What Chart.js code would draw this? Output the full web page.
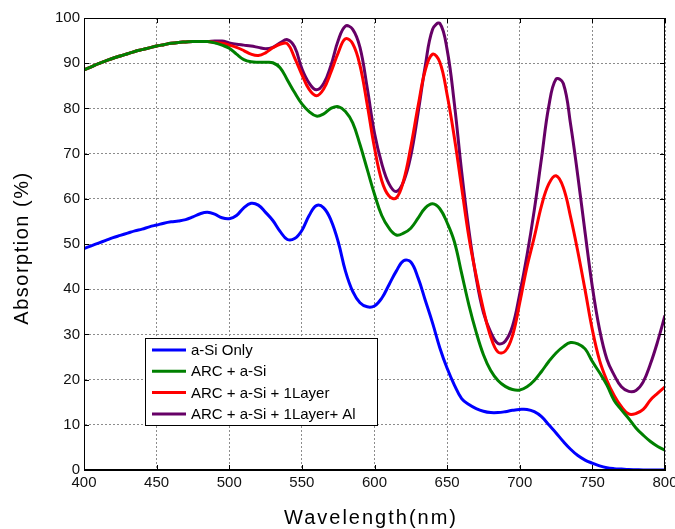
<!DOCTYPE html>
<html>
<head>
<meta charset="utf-8">
<title>Absorption</title>
<script src="https://cdn.jsdelivr.net/npm/chart.js@4.4.0/dist/chart.umd.min.js"></script>
<style>
body { margin: 0; background: #fff; }
#wrap { width: 675px; height: 529px; }
</style>
</head>
<body>
<div id="wrap"><canvas id="absChart" width="675" height="529"></canvas></div>
<script>
// wavelength grid (nm)
var wavelength = [400,405,410,415,420,425,430,435,440,445,450,455,460,465,470,475,480,485,490,495,
  500,505,510,515,520,525,530,535,540,545,550,555,560,565,570,575,580,585,590,595,
  600,605,610,615,620,625,630,635,640,645,650,655,660,665,670,675,680,685,690,695,
  700,705,710,715,720,725,730,735,740,745,750,755,760,765,770,775,780,785,790,795,800];

// absorption (%)
var aSiOnly = [49.0,49.6,50.2,50.8,51.4,51.9,52.4,52.9,53.3,53.8,54.2,54.6,54.9,55.1,55.4,56.0,56.7,57.0,56.6,55.8,
  55.6,56.3,58.0,59.0,58.6,57.0,55.2,52.8,51.0,51.2,53.0,56.3,58.5,58.0,55.3,50.5,44.0,39.5,37.0,36.1,
  36.3,38.0,41.0,44.0,46.3,46.0,42.5,37.5,32.5,27.0,22.5,18.8,15.8,14.5,13.6,13.0,12.7,12.7,12.9,13.2,
  13.4,13.4,12.9,11.8,10.0,8.2,6.3,4.6,3.2,2.2,1.5,0.9,0.5,0.3,0.2,0.1,0.05,0,0,0,0];

var arcASi = [88.5,89.2,89.9,90.5,91.1,91.6,92.1,92.6,93.0,93.4,93.8,94.1,94.4,94.6,94.7,94.8,94.8,94.8,94.5,94.0,
  93.3,92.0,90.8,90.3,90.2,90.2,90.1,89.0,86.3,83.5,81.0,79.3,78.3,78.8,80.0,80.4,79.3,76.8,72.0,66.5,
  61.0,56.3,53.5,52.0,52.4,53.5,55.7,58.0,58.9,57.8,54.7,50.5,43.5,36.5,30.5,25.5,22.0,19.8,18.5,17.8,
  17.7,18.4,19.8,21.8,24.0,25.9,27.3,28.2,27.9,26.8,24.0,21.5,18.8,15.4,13.3,11.4,9.3,7.7,6.3,5.2,4.4];

var arcASiLayer = [88.5,89.2,89.9,90.5,91.1,91.6,92.1,92.6,93.0,93.4,93.8,94.1,94.4,94.6,94.7,94.8,94.8,94.8,94.6,94.4,
  94.0,93.5,92.8,92.0,91.7,92.3,93.4,94.2,94.3,91.2,87.5,84.2,82.8,84.3,88.0,92.3,95.4,94.3,89.5,80.8,
  71.3,64.0,60.6,60.2,64.0,71.5,80.5,88.5,92.0,90.2,83.0,73.5,62.5,51.5,43.0,35.5,29.5,26.1,26.3,29.7,
  37.0,45.0,51.5,58.5,63.3,65.1,62.5,56.0,48.3,39.8,31.0,24.2,19.8,16.5,14.0,12.4,12.5,13.4,15.5,17.0,18.4];

var arcASiLayerAl = [88.5,89.2,89.9,90.5,91.1,91.6,92.1,92.6,93.0,93.4,93.8,94.1,94.4,94.6,94.7,94.8,94.8,94.8,94.9,94.9,
  94.5,94.2,94.0,93.8,93.5,93.2,93.5,94.5,95.2,93.6,88.8,85.6,84.1,85.5,89.5,95.0,98.2,97.5,93.5,84.5,
  74.5,67.8,63.3,61.6,63.8,69.5,79.0,89.5,97.5,98.8,93.0,81.0,66.0,53.0,42.5,34.8,30.5,28.0,28.5,31.8,
  39.0,47.5,57.5,69.0,80.5,86.5,85.5,76.5,65.0,52.5,40.5,31.0,24.5,21.0,18.4,17.4,17.6,19.5,23.5,28.5,34.2];

var seriesNames = ['a-Si Only', 'ARC + a-Si', 'ARC + a-Si + 1Layer', 'ARC + a-Si + 1Layer+ Al'];
var seriesColors = ['#0000ff', '#008000', '#ff0000', '#660066'];
var xTicks = [400,450,500,550,600,650,700,750,800];
var yTicks = [0,10,20,30,40,50,60,70,80,90,100];

var fontFamily = "'Liberation Sans', Arial, Helvetica, sans-serif";

function pts(vals) {
  return wavelength.map(function (w, i) { return {x: w, y: vals[i]}; });
}

var allSeries = [aSiOnly, arcASi, arcASiLayer, arcASiLayerAl];
var datasets = allSeries.map(function (vals, i) {
  return {
    label: seriesNames[i],
    data: pts(vals),
    borderColor: seriesColors[i],
    backgroundColor: seriesColors[i],
    borderWidth: 3,
    pointRadius: 0,
    tension: 0.4,
    fill: false
  };
});

// frame, inward ticks, legend box and axis titles the matlab way
var matlabBits = {
  id: 'matlabBits',
  afterDraw: function (chart) {
    var ctx = chart.ctx, a = chart.chartArea;
    var xs = chart.scales.x, ys = chart.scales.y;
    ctx.save();
    ctx.strokeStyle = '#000';
    ctx.lineWidth = 1;
    ctx.strokeRect(a.left + 0.5, a.top + 0.5, a.right - a.left - 1, a.bottom - a.top - 1);
    ctx.beginPath();
    xTicks.forEach(function (t) {
      var px = Math.round(xs.getPixelForValue(t)) + 0.5;
      ctx.moveTo(px, a.bottom); ctx.lineTo(px, a.bottom - 5);
      ctx.moveTo(px, a.top); ctx.lineTo(px, a.top + 5);
    });
    yTicks.forEach(function (t) {
      var py = Math.round(ys.getPixelForValue(t)) + 0.5;
      ctx.moveTo(a.left, py); ctx.lineTo(a.left + 5, py);
      ctx.moveTo(a.right, py); ctx.lineTo(a.right - 5, py);
    });
    ctx.stroke();

    // legend
    var bx = 145, by = 338, bw = 232, bh = 87;
    ctx.fillStyle = '#fff';
    ctx.fillRect(bx, by, bw, bh);
    ctx.strokeRect(bx + 0.5, by + 0.5, bw, bh);
    ctx.font = '15px ' + fontFamily;
    ctx.textBaseline = 'middle';
    ctx.textAlign = 'left';
    chart.data.datasets.forEach(function (ds, i) {
      var ly = by + 12 + i * 21.3;
      ctx.strokeStyle = ds.borderColor;
      ctx.lineWidth = 3;
      ctx.beginPath();
      ctx.moveTo(152, ly); ctx.lineTo(186, ly);
      ctx.stroke();
      ctx.fillStyle = '#000';
      ctx.fillText(ds.label, 191, ly + 1);
    });

    // axis titles
    ctx.fillStyle = '#000';
    ctx.font = '20px ' + fontFamily;
    ctx.textAlign = 'center';
    ctx.textBaseline = 'middle';
    if ('letterSpacing' in ctx) ctx.letterSpacing = '2px';
    ctx.fillText('Wavelength(nm)', 371, 518);
    if ('letterSpacing' in ctx) ctx.letterSpacing = '1.5px';
    ctx.translate(22, 248);
    ctx.rotate(-Math.PI / 2);
    ctx.fillText('Absorption (%)', 0, 0);
    ctx.restore();
  }
};

new Chart(document.getElementById('absChart'), {
  type: 'line',
  data: { datasets: datasets },
  options: {
    responsive: false,
    animation: false,
    layout: { padding: { top: 18, right: 10, left: 0, bottom: 0 } },
    plugins: {
      legend: { display: false },
      tooltip: { enabled: false }
    },
    scales: {
      x: {
        type: 'linear',
        min: 400,
        max: 800,
        afterBuildTicks: function (scale) {
          scale.ticks = xTicks.map(function (v) { return {value: v}; });
        },
        afterFit: function (scale) {
          scale.height = 59;
          scale.paddingLeft = 0;
          scale.paddingRight = 0;
        },
        ticks: {
          color: '#111',
          padding: 4,
          maxRotation: 0,
          autoSkip: false,
          font: { family: fontFamily, size: 15 }
        },
        grid: { color: '#8c8c8c', drawTicks: false, lineWidth: 1 },
        border: { display: true, color: '#000', dash: [2, 2] }
      },
      y: {
        min: 0,
        max: 100,
        afterBuildTicks: function (scale) {
          scale.ticks = yTicks.map(function (v) { return {value: v}; });
        },
        afterFit: function (scale) {
          scale.width = 84;
        },
        ticks: {
          color: '#111',
          padding: 4,
          font: { family: fontFamily, size: 15 }
        },
        grid: { color: '#8c8c8c', drawTicks: false, lineWidth: 1 },
        border: { display: true, color: '#000', dash: [2, 2] }
      }
    }
  },
  plugins: [matlabBits]
});
</script>
</body>
</html>
